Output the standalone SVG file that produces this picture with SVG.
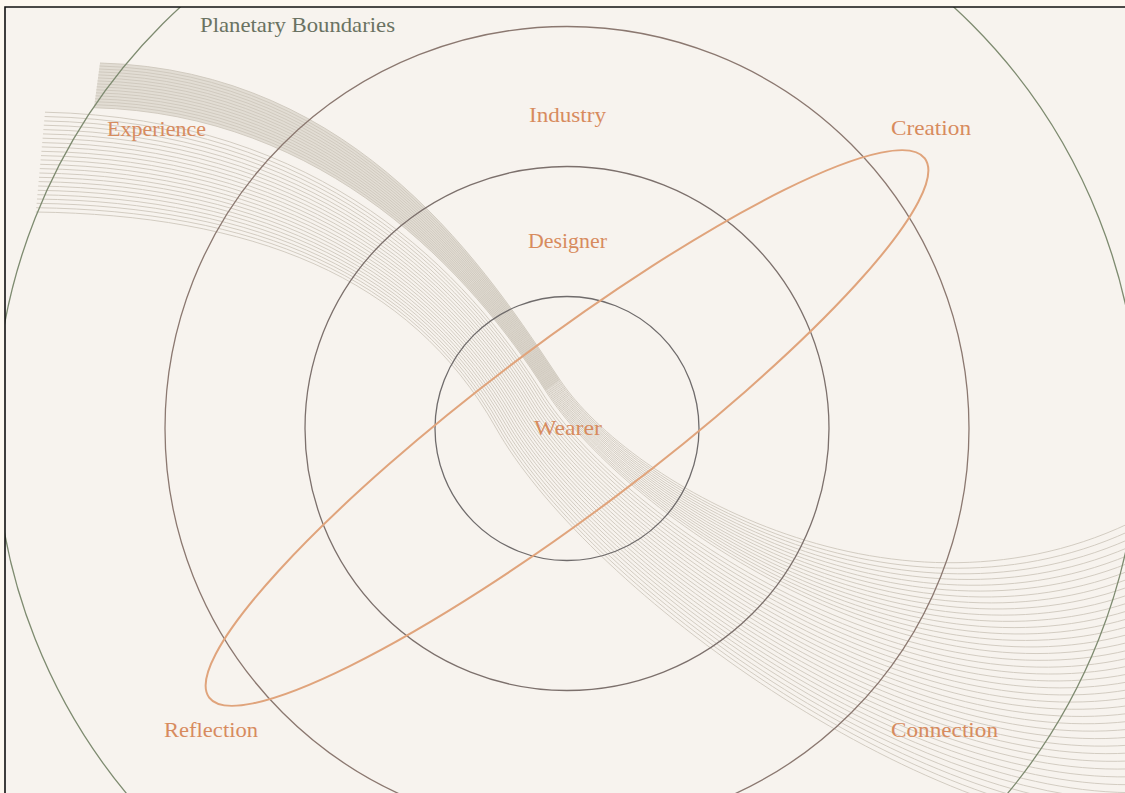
<svg xmlns="http://www.w3.org/2000/svg" width="1125" height="793" viewBox="0 0 1125 793">
<style>
.lbl{font-family:"Liberation Serif","DejaVu Serif",serif;font-size:21px;fill:#d78b5e;text-anchor:middle}
.pb{font-family:"Liberation Serif","DejaVu Serif",serif;font-size:21px;fill:#6a7262;text-anchor:middle}
.rib path{fill:none;stroke:#cec7bc;stroke-width:0.9}
.ring{fill:none;stroke-width:1.3}
</style>
<defs>
<clipPath id="frame"><rect x="5" y="7" width="1125" height="790"/></clipPath>
</defs>
<rect x="0" y="0" width="1125" height="793" fill="#fdf8f0"/>
<rect x="5" y="7" width="1130" height="800" fill="#f7f3ee"/>
<g clip-path="url(#frame)">
<g id="ribbon" class="rib">
<path d="M100 63 C360 70 490 275 560 380 L545.6 390.8 C472 275 327 113.5 94 107.7 Z" style="fill:#e2ddd4;stroke:none"/>
<path d="M100 63 C360 70 490 275 560 380 S900 640 1140 518"/>
<path d="M99.6 66 C357.8 72.9 488.8 275 559 380.7 S900 644.6 1140 526.1"/>
<path d="M99.2 69 C355.6 75.8 487.6 275 558.1 381.4 S900 649.2 1140 534.2"/>
<path d="M98.8 71.9 C353.4 78.7 486.4 275 557.1 382.2 S900 653.8 1140 542.2"/>
<path d="M98.4 74.9 C351.2 81.6 485.2 275 556.2 382.9 S900 658.5 1140 550.3"/>
<path d="M98 77.9 C349 84.5 484 275 555.2 383.6 S900 663.1 1140 558.4"/>
<path d="M97.6 80.9 C346.8 87.4 482.8 275 554.2 384.3 S900 667.7 1140 566.5"/>
<path d="M97.2 83.9 C344.6 90.3 481.6 275 553.3 385 S900 672.3 1140 574.5"/>
<path d="M96.8 86.8 C342.4 93.2 480.4 275 552.3 385.8 S900 676.9 1140 582.6"/>
<path d="M96.4 89.8 C340.2 96.1 479.2 275 551.4 386.5 S900 681.5 1140 590.7"/>
<path d="M96 92.8 C338 99 478 275 550.4 387.2 S900 686.2 1140 598.8"/>
<path d="M95.6 95.8 C335.8 101.9 476.8 275 549.4 387.9 S900 690.8 1140 606.8"/>
<path d="M95.2 98.8 C333.6 104.8 475.6 275 548.5 388.6 S900 695.4 1140 614.9"/>
<path d="M94.8 101.7 C331.4 107.7 474.4 275 547.5 389.4 S900 700 1140 623"/>
<path d="M94.4 104.7 C329.2 110.6 473.2 275 546.6 390.1 S900 704.6 1140 631.1"/>
<path d="M94 107.7 C327 113.5 472 275 545.6 390.8 S900 709.2 1140 639.2"/>
<path d="M45 112.2 C323.7 117.9 468 275 542.4 393.2 S900 713.8 1140 647.2"/>
<path d="M44.6 116.5 C320.5 122.1 465.5 275 540.4 394.7 S900 718.5 1140 655.3"/>
<path d="M44.2 120.9 C317.3 126.3 463 275 538.4 396.2 S900 723.1 1140 663.4"/>
<path d="M43.8 125.2 C314.1 130.5 460.4 275 536.3 397.7 S900 727.7 1140 671.5"/>
<path d="M43.4 129.6 C310.9 134.8 457.9 275 534.3 399.3 S900 732.3 1140 679.5"/>
<path d="M43 133.9 C307.7 139 455.4 275 532.3 400.8 S900 736.9 1140 687.6"/>
<path d="M42.6 138.2 C304.5 143.2 452.9 275 530.3 402.3 S900 741.5 1140 695.7"/>
<path d="M42.2 142.6 C301.3 147.5 450.3 275 528.3 403.8 S900 746.2 1140 703.8"/>
<path d="M41.8 146.9 C298.1 151.7 447.8 275 526.3 405.3 S900 750.8 1140 711.8"/>
<path d="M41.4 151.3 C294.9 155.9 445.3 275 524.2 406.8 S900 755.4 1140 719.9"/>
<path d="M41 155.6 C291.7 160.1 442.8 275 522.2 408.3 S900 760 1140 728"/>
<path d="M40.6 159.9 C288.5 164.4 440.3 275 520.2 409.8 S900 764.6 1140 736.1"/>
<path d="M40.2 164.3 C285.2 168.6 437.7 275 518.2 411.4 S900 769.2 1140 744.2"/>
<path d="M39.8 168.6 C282 172.8 435.2 275 516.2 412.9 S900 773.8 1140 752.2"/>
<path d="M39.4 173 C278.8 177 432.7 275 514.2 414.4 S900 778.5 1140 760.3"/>
<path d="M39 177.3 C275.6 181.3 430.2 275 512.1 415.9 S900 783.1 1140 768.4"/>
<path d="M38.6 181.6 C272.4 185.5 427.7 275 510.1 417.4 S900 787.7 1140 776.5"/>
<path d="M38.2 186 C269.2 189.7 425.1 275 508.1 418.9 S900 792.3 1140 784.5"/>
<path d="M37.8 190.3 C266 193.9 422.6 275 506.1 420.4 S900 796.9 1140 792.6"/>
<path d="M37.4 194.7 C262.8 198.2 420.1 275 504.1 421.9 S900 801.5 1140 800.7"/>
<path d="M37 199 C259.6 202.4 417.6 275 502.1 423.5 S900 806.2 1140 808.8"/>
<path d="M36.6 203.3 C256.4 206.6 415 275 500 425 S900 810.8 1140 816.8"/>
<path d="M36.2 207.7 C253.2 210.8 412.5 275 498 426.5 S900 815.4 1140 824.9"/>
<path d="M35.8 212 C250 215 410 275 496 428 S900 820 1140 833"/>
</g>
<g id="node-planetary">
<circle cx="567" cy="428.5" r="572" class="ring" stroke="#7e8b70" stroke-width="2"/>
<text class="pb" x="297.5" y="32" textLength="195" lengthAdjust="spacingAndGlyphs">Planetary Boundaries</text>
</g>
<g id="node-industry">
<circle cx="567" cy="428.5" r="402" class="ring" stroke="#8b7870"/>
<text class="lbl" x="567.5" y="122" textLength="77" lengthAdjust="spacingAndGlyphs">Industry</text>
</g>
<g id="node-designer">
<circle cx="567" cy="428.5" r="262" class="ring" stroke="#7c706c"/>
<text class="lbl" x="567.5" y="248" textLength="79" lengthAdjust="spacingAndGlyphs">Designer</text>
</g>
<g id="node-wearer">
<circle cx="567" cy="428.5" r="132" class="ring" stroke="#6f6b6b"/>
<text class="lbl" x="568" y="435" textLength="68" lengthAdjust="spacingAndGlyphs">Wearer</text>
</g>
<g id="node-orbit">
<ellipse cx="567" cy="428" rx="448" ry="84" transform="rotate(-37 567 428)" fill="none" stroke="#e0a47c" stroke-width="2"/>
</g>
<g id="node-experience"><text class="lbl" x="156.5" y="136" textLength="99" lengthAdjust="spacingAndGlyphs">Experience</text></g>
<g id="node-creation"><text class="lbl" x="931" y="135" textLength="80" lengthAdjust="spacingAndGlyphs">Creation</text></g>
<g id="node-reflection"><text class="lbl" x="211" y="737" textLength="94" lengthAdjust="spacingAndGlyphs">Reflection</text></g>
<g id="node-connection"><text class="lbl" x="944.5" y="737" textLength="107" lengthAdjust="spacingAndGlyphs">Connection</text></g>
</g>
<g id="connectors"></g>
<path d="M5 793 V7 H1125" fill="none" stroke="#111" stroke-width="1.6"/>
</svg>
